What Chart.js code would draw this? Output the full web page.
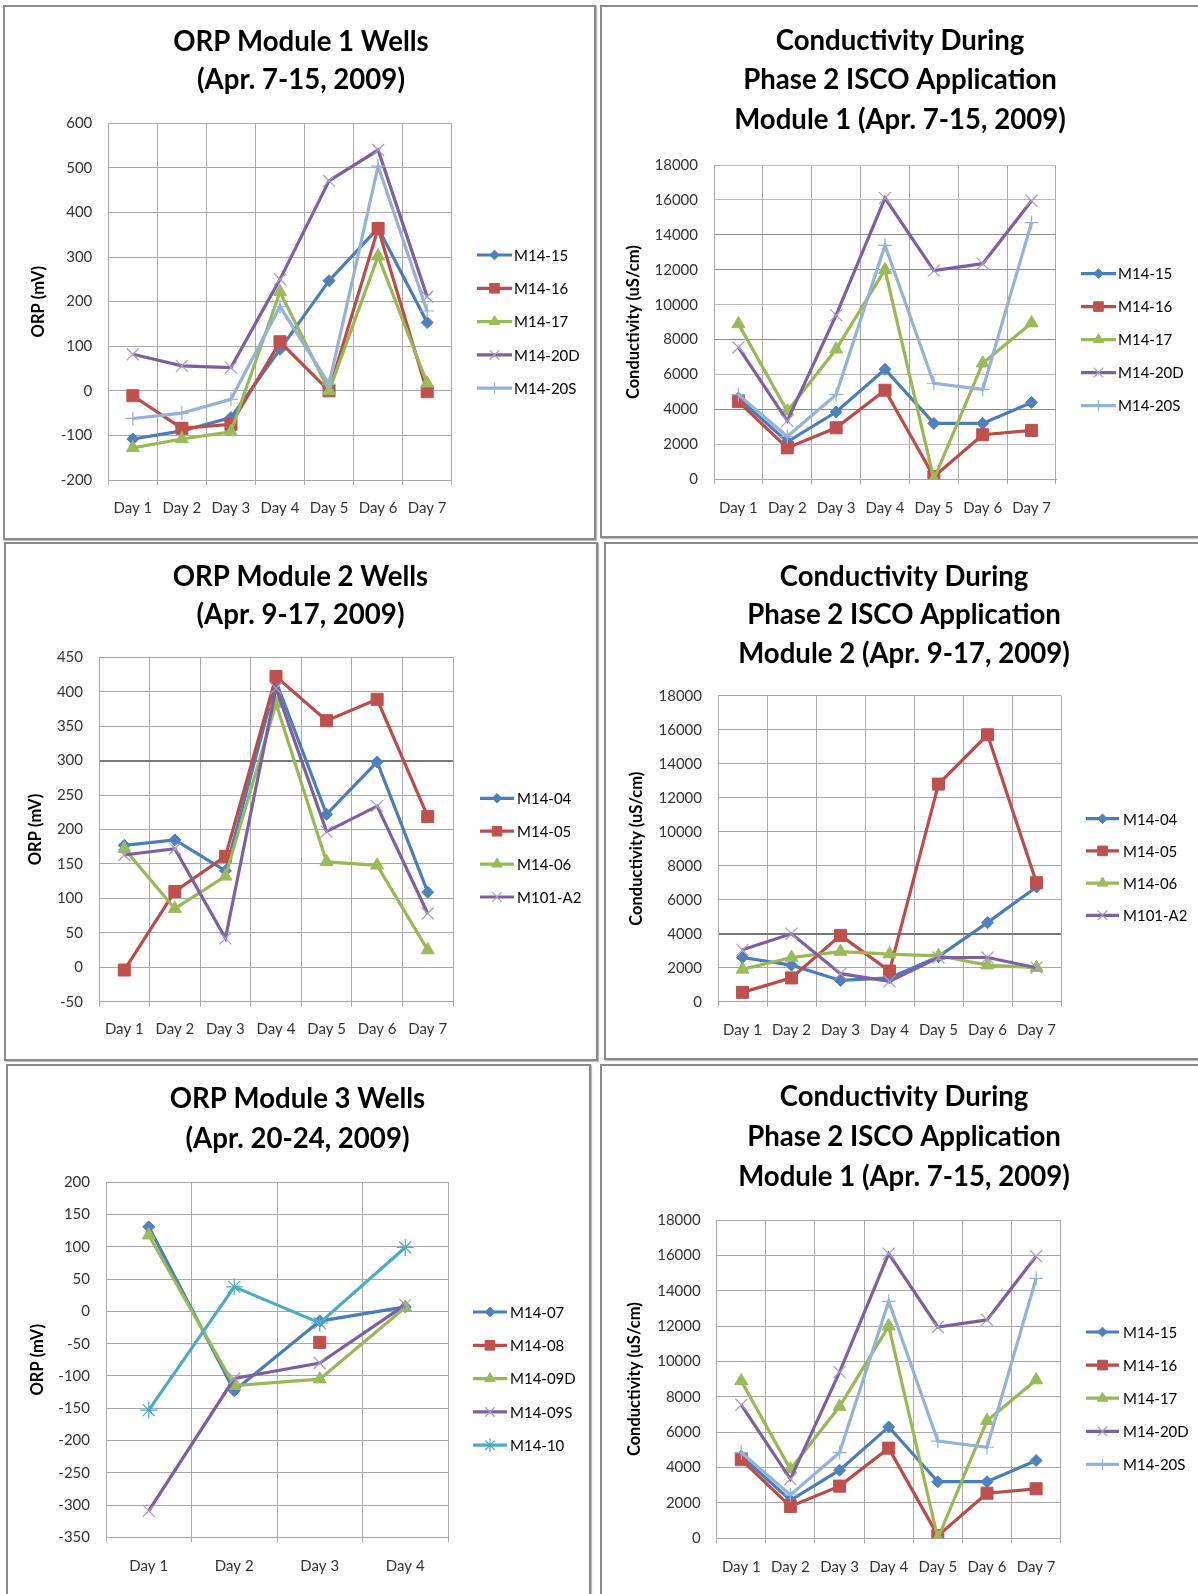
<!DOCTYPE html>
<html><head><meta charset="utf-8">
<script src="https://cdn.jsdelivr.net/npm/chart.js@4.4.1/dist/chart.umd.min.js"></script>
<style>
html,body{margin:0;padding:0;background:#fff;}
#page{position:relative;width:1198px;height:1594px;overflow:hidden;background:#fff;}
.panel{position:absolute;box-sizing:border-box;border:2px solid #8a8a8a;box-shadow:1px 1px 1px #bdbdbd;background:#fff;}
canvas{position:absolute;left:0;top:0;}
</style></head>
<body><div id="page">
<div class="panel" style="left:3px;top:5px;width:593px;height:535px"></div>
<div class="panel" style="left:600px;top:5px;width:610px;height:533px"></div>
<div class="panel" style="left:4px;top:542px;width:594px;height:519px"></div>
<div class="panel" style="left:604px;top:542px;width:606px;height:518px"></div>
<div class="panel" style="left:6px;top:1064px;width:585px;height:540px"></div>
<div class="panel" style="left:600px;top:1064px;width:610px;height:540px"></div>
<canvas id="c1" width="1198" height="1594"></canvas>
<canvas id="c2" width="1198" height="1594"></canvas>
<canvas id="c3" width="1198" height="1594"></canvas>
<canvas id="c4" width="1198" height="1594"></canvas>
<canvas id="c5" width="1198" height="1594"></canvas>
<canvas id="c6" width="1198" height="1594"></canvas>
</div>
<script>
// ---------- categories ----------
const days7 = ['Day 1','Day 2','Day 3','Day 4','Day 5','Day 6','Day 7'];
const days4 = ['Day 1','Day 2','Day 3','Day 4'];

// ---------- titles ----------
const title1 = ['ORP Module 1 Wells','(Apr. 7-15, 2009)'];
const title2 = ['Conductivity During','Phase 2 ISCO Application','Module 1 (Apr. 7-15, 2009)'];
const title3 = ['ORP Module 2 Wells','(Apr. 9-17, 2009)'];
const title4 = ['Conductivity During','Phase 2 ISCO Application','Module 2 (Apr. 9-17, 2009)'];
const title5 = ['ORP Module 3 Wells','(Apr. 20-24, 2009)'];
const title6 = ['Conductivity During','Phase 2 ISCO Application','Module 1 (Apr. 7-15, 2009)'];
const orpAxisTitle = 'ORP (mV)';
const condAxisTitle = 'Conductivity (uS/cm)';

// ---------- ORP Module 1 (mV) ----------
const orp1Names = ['M14-15','M14-16','M14-17','M14-20D','M14-20S'];
const orp1_M14_15  = [-108, -90, -60,  93, 247, 365, 153];
const orp1_M14_16  = [ -11, -84, -75, 110,   0, 364,  -2];
const orp1_M14_17  = [-128,-108, -92, 222,   0, 302,  17];
const orp1_M14_20D = [  82,  56,  52, 250, 471, 540, 211];
const orp1_M14_20S = [ -62, -50, -19, 189,  15, 504, 179];

// ---------- Conductivity Module 1 (uS/cm) ----------
const cond1Names = ['M14-15','M14-16','M14-17','M14-20D','M14-20S'];
const cond1_M14_15  = [4650, 2150, 3850,  6300,  3200,  3200,  4400];
const cond1_M14_16  = [4450, 1800, 2950,  5100,   150,  2550,  2800];
const cond1_M14_17  = [8900, 3900, 7450, 12000,     0,  6650,  8950];
const cond1_M14_20D = [7550, 3350, 9400, 16100, 11950, 12350, 15950];
const cond1_M14_20S = [4850, 2450, 4850, 13400,  5500,  5150, 14700];

// ---------- ORP Module 2 (mV) ----------
const orp2Names = ['M14-04','M14-05','M14-06','M101-A2'];
const orp2_M14_04  = [177, 185, 140, 415, 222, 298, 109];
const orp2_M14_05  = [ -4, 110, 161, 422, 358, 389, 219];
const orp2_M14_06  = [172,  85, 132, 383, 153, 148,  25];
const orp2_M101_A2 = [163, 172,  42, 405, 197, 234,  78];

// ---------- Conductivity Module 2 (uS/cm) ----------
const cond2Names = ['M14-04','M14-05','M14-06','M101-A2'];
const cond2_M14_04  = [2600, 2150, 1250, 1400,  2650,  4650, 6750];
const cond2_M14_05  = [ 550, 1400, 3900, 1800, 12800, 15700, 7000];
const cond2_M14_06  = [1900, 2600, 2950, 2800,  2700,  2150, 2000];
const cond2_M101_A2 = [3050, 4000, 1650, 1200,  2600,  2600, 2000];

// ---------- ORP Module 3 (mV) ----------
const orp3Names = ['M14-07','M14-08','M14-09D','M14-09S','M14-10'];
const orp3_M14_07  = [ 131, -123, -15,    7];
const orp3_M14_08  = [null, null, -48, null];
const orp3_M14_09D = [ 118, -115, -105,   6];
const orp3_M14_09S = [-309, -104, -80,   10];
const orp3_M14_10  = [-153,   38, -18,   99];

// ---------- axis ranges ----------
const orp1Range = [-200, 600, 100];
const condRange = [0, 18000, 2000];
const orp2Range = [-50, 450, 50];
const orp3Range = [-350, 200, 50];

// ---------- styles ----------
const ST = {
  blue:   {line:'#4A7EBB', pt:'#4F81BD', style:'rectRot',  r:6,   bw:1},
  red:    {line:'#BE4B48', pt:'#C0504D', style:'rect',     r:8.5, bw:1},
  green:  {line:'#98B954', pt:'#9BBB59', style:'triangle', r:7.5, bw:1},
  purple: {line:'#7D60A0', pt:'#A99BC6', style:'crossRot', r:8.5, bw:1.2},
  lblue:  {line:'#95B3D7', pt:'#95B3D7', style:'cross',    r:7,   bw:1.2},
  cyan:   {line:'#4BACC6', pt:'#4BACC6', style:'star',     r:8.5, bw:1.2}
};

Chart.defaults.font.family = 'Lato, "Open Sans", sans-serif';

function drawMarker(ctx, style, r, x, y, bw) {
  if (Chart.helpers && Chart.helpers.drawPoint) {
    Chart.helpers.drawPoint(ctx, {pointStyle: style, radius: r, borderWidth: bw, rotation: 0}, x, y);
  }
}

const excelDecor = {
  id: 'excelDecor',
  afterDraw(chart, args, o) {
    const ctx = chart.ctx;
    ctx.save();
    ctx.fillStyle = '#000';
    ctx.textAlign = 'center';
    ctx.textBaseline = 'middle';
    ctx.font = 'bold ' + o.titleSize + 'px Lato';
    o.title.forEach((t, i) => ctx.fillText(t, o.titleX, o.titleY + i * o.titleGap));
    chart.data.datasets.forEach((ds, i) => {
      const y = o.legY + i * o.legGap;
      ctx.strokeStyle = ds.borderColor;
      ctx.lineWidth = ds.borderWidth;
      ctx.beginPath();
      ctx.moveTo(o.legX, y);
      ctx.lineTo(o.legX + o.legLen, y);
      ctx.stroke();
      ctx.fillStyle = ds.pointBackgroundColor;
      ctx.strokeStyle = ds.pointBorderColor;
      ctx.lineWidth = ds.pointBorderWidth;
      drawMarker(ctx, ds.pointStyle, ds.pointRadius * 0.8, o.legX + o.legLen / 2, y, ds.pointBorderWidth);
      ctx.fillStyle = '#000';
      ctx.textAlign = 'left';
      ctx.textBaseline = 'middle';
      ctx.font = o.legSize + 'px Lato';
      ctx.fillText(ds.label, o.legX + o.legLen + o.legTextGap, y + 1);
    });
    ctx.restore();
  }
};

function ds(label, data, s, i) {
  return {
    label: label, data: data,
    borderColor: s.line, borderWidth: 3.2,
    pointStyle: s.style, pointRadius: s.r,
    pointBackgroundColor: s.pt, pointBorderColor: s.pt, pointBorderWidth: s.bw,
    pointHoverRadius: s.r, tension: 0, fill: false, spanGaps: false, order: -i
  };
}

function makeChart(id, c) {
  const yTitleSize = 16.5;
  const padLeft = c.yTitleX - yTitleSize * 1.2 / 2;
  const W = c.plot.l - padLeft;
  const H = 42;
  const gridCol = c.gridCol || '#a8a8a8';
  return new Chart(document.getElementById(id), {
    type: 'line',
    data: {labels: c.labels, datasets: c.datasets},
    options: {
      responsive: false, animation: false, events: [],
      layout: {padding: {left: padLeft, top: c.plot.t, right: 1198 - c.plot.r, bottom: 1594 - c.plot.b - H}},
      plugins: {
        legend: {display: false}, tooltip: {enabled: false},
        excelDecor: c.decor
      },
      scales: {
        x: {
          type: 'category', offset: true,
          grid: {offset: true, color: '#a8a8a8', drawTicks: true, tickLength: 5},
          border: {color: '#a8a8a8'},
          ticks: {padding: c.xPad, font: {size: 15}, color: '#333', maxRotation: 0, autoSkip: false},
          afterFit(s) { s.height = H; s.paddingLeft = 0; s.paddingRight = 0; }
        },
        y: {
          min: c.range[0], max: c.range[1],
          ticks: {stepSize: c.range[2], padding: 16, font: {size: 15}, color: '#333',
                  callback: (v) => String(v)},
          grid: {drawTicks: false, color: gridCol, lineWidth: c.gridW || 1},
          border: {color: '#a8a8a8'},
          title: {display: true, text: c.yTitle, font: {size: yTitleSize, weight: 'bold'}, padding: 0, color: '#000'},
          afterFit(s) { s.width = W; s.paddingTop = 0; s.paddingBottom = 0; s.paddingLeft = 0; s.paddingRight = 0; }
        }
      }
    },
    plugins: [excelDecor]
  });
}

// Chart 1
makeChart('c1', {
  labels: days7, range: orp1Range, yTitle: orpAxisTitle, yTitleX: 39, xPad: 14,
  plot: {l: 108.3, r: 451.7, t: 123.3, b: 480},
  datasets: [
    ds(orp1Names[0], orp1_M14_15, ST.blue, 0),
    ds(orp1Names[1], orp1_M14_16, ST.red, 1),
    ds(orp1Names[2], orp1_M14_17, ST.green, 2),
    ds(orp1Names[3], orp1_M14_20D, ST.purple, 3),
    ds(orp1Names[4], orp1_M14_20S, ST.lblue, 4)
  ],
  decor: {title: title1, titleX: 301, titleY: 42, titleGap: 38.5, titleSize: 27.6,
          legX: 477, legY: 255, legGap: 33.3, legLen: 35, legTextGap: 2, legSize: 15}
});

// Chart 2
makeChart('c2', {
  labels: days7, range: condRange, yTitle: condAxisTitle, yTitleX: 634, xPad: 15,
  plot: {l: 714, r: 1056, t: 165, b: 479.3},
  gridCol: (ctx) => [14000, 12000, 8000, 4000].includes(ctx.tick && ctx.tick.value) ? '#8c8c8c' : '#b8b8b8',
  datasets: [
    ds(cond1Names[0], cond1_M14_15, ST.blue, 0),
    ds(cond1Names[1], cond1_M14_16, ST.red, 1),
    ds(cond1Names[2], cond1_M14_17, ST.green, 2),
    ds(cond1Names[3], cond1_M14_20D, ST.purple, 3),
    ds(cond1Names[4], cond1_M14_20S, ST.lblue, 4)
  ],
  decor: {title: title2, titleX: 900, titleY: 41, titleGap: 39.5, titleSize: 27.6,
          legX: 1081, legY: 273.6, legGap: 33, legLen: 35, legTextGap: 2, legSize: 15}
});

// Chart 3
makeChart('c3', {
  labels: days7, range: orp2Range, yTitle: orpAxisTitle, yTitleX: 36, xPad: 13.5,
  plot: {l: 99, r: 453, t: 657.3, b: 1001.7},
  gridCol: (ctx) => (ctx.tick && ctx.tick.value === 300) ? '#777777' : '#a8a8a8',
  gridW: (ctx) => (ctx.tick && ctx.tick.value === 300) ? 2 : 1,
  datasets: [
    ds(orp2Names[0], orp2_M14_04, ST.blue, 0),
    ds(orp2Names[1], orp2_M14_05, ST.red, 1),
    ds(orp2Names[2], orp2_M14_06, ST.green, 2),
    ds(orp2Names[3], orp2_M101_A2, ST.purple, 3)
  ],
  decor: {title: title3, titleX: 300.5, titleY: 576.6, titleGap: 38.7, titleSize: 27.6,
          legX: 480, legY: 798.3, legGap: 32.9, legLen: 34, legTextGap: 3, legSize: 15}
});

// Chart 4
makeChart('c4', {
  labels: days7, range: condRange, yTitle: condAxisTitle, yTitleX: 637, xPad: 14,
  plot: {l: 718, r: 1061, t: 695.7, b: 1001.7},
  gridCol: (ctx) => (ctx.tick && ctx.tick.value === 4000) ? '#777777' : '#a8a8a8',
  gridW: (ctx) => (ctx.tick && ctx.tick.value === 4000) ? 2 : 1,
  datasets: [
    ds(cond2Names[0], cond2_M14_04, ST.blue, 0),
    ds(cond2Names[1], cond2_M14_05, ST.red, 1),
    ds(cond2Names[2], cond2_M14_06, ST.green, 2),
    ds(cond2Names[3], cond2_M101_A2, ST.purple, 3)
  ],
  decor: {title: title4, titleX: 904, titleY: 576.6, titleGap: 38.7, titleSize: 27.6,
          legX: 1086, legY: 818.7, legGap: 32.2, legLen: 33, legTextGap: 4, legSize: 15}
});

// Chart 5
makeChart('c5', {
  labels: days4, range: orp3Range, yTitle: orpAxisTitle, yTitleX: 38, xPad: 15,
  plot: {l: 106, r: 448, t: 1182.3, b: 1537.3},
  datasets: [
    ds(orp3Names[0], orp3_M14_07, ST.blue, 0),
    ds(orp3Names[1], orp3_M14_08, ST.red, 1),
    ds(orp3Names[2], orp3_M14_09D, ST.green, 2),
    ds(orp3Names[3], orp3_M14_09S, ST.purple, 3),
    ds(orp3Names[4], orp3_M14_10, ST.cyan, 4)
  ],
  decor: {title: title5, titleX: 297.5, titleY: 1099.4, titleGap: 39.6, titleSize: 27.6,
          legX: 473, legY: 1312, legGap: 33.3, legLen: 34, legTextGap: 3, legSize: 15}
});

// Chart 6
makeChart('c6', {
  labels: days7, range: condRange, yTitle: condAxisTitle, yTitleX: 635, xPad: 15,
  plot: {l: 716.7, r: 1060.7, t: 1220, b: 1538.3},
  datasets: [
    ds(cond1Names[0], cond1_M14_15, ST.blue, 0),
    ds(cond1Names[1], cond1_M14_16, ST.red, 1),
    ds(cond1Names[2], cond1_M14_17, ST.green, 2),
    ds(cond1Names[3], cond1_M14_20D, ST.purple, 3),
    ds(cond1Names[4], cond1_M14_20S, ST.lblue, 4)
  ],
  decor: {title: title6, titleX: 904, titleY: 1097.3, titleGap: 39.7, titleSize: 27.6,
          legX: 1086, legY: 1332, legGap: 33.1, legLen: 33, legTextGap: 4, legSize: 15}
});
</script>
</body></html>
